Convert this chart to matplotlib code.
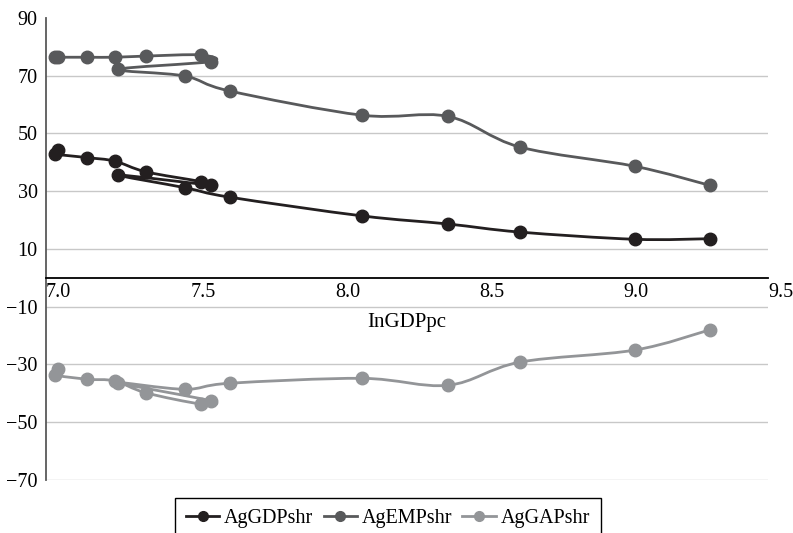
import matplotlib
matplotlib.use('Agg')
import matplotlib.pyplot as plt
from matplotlib.path import Path
from matplotlib.patches import PathPatch
from matplotlib.lines import Line2D

# values, in the order the lines connect them
lnGDPpc = [7.043, 7.031, 7.143, 7.238, 7.345, 7.536, 7.571, 7.250, 7.480, 7.636, 8.095, 8.392, 8.640, 9.039, 9.298]
AgGDPshr = [44.2, 42.9, 41.6, 40.4, 36.7, 33.3, 32.1, 35.6, 31.2, 27.9, 21.4, 18.6, 15.8, 13.3, 13.5]
AgEMPshr = [76.4, 76.4, 76.4, 76.4, 76.8, 77.2, 74.9, 72.2, 69.9, 64.7, 56.3, 55.9, 45.3, 38.6, 32.0]
AgGAPshr = [-31.8, -33.7, -35.2, -35.8, -39.9, -43.8, -42.7, -36.4, -38.7, -36.6, -34.9, -37.3, -29.3, -25.1, -18.1]

series_names = ['AgGDPshr', 'AgEMPshr', 'AgGAPshr']
series_colors = ['#231f20', '#58595b', '#939598']

x_ticks = [7.0, 7.5, 8.0, 8.5, 9.0, 9.5]
y_ticks = [-70, -50, -30, -10, 10, 30, 50, 70, 90]


def smooth_path(xs, ys):
    # excel style smoothed line: cubic bezier through every point
    pts = list(zip(xs, ys))
    n = len(pts)
    verts = [pts[0]]
    codes = [Path.MOVETO]
    for i in range(n - 1):
        p0 = pts[max(i - 1, 0)]
        p1 = pts[i]
        p2 = pts[i + 1]
        p3 = pts[min(i + 2, n - 1)]
        c1 = (p1[0] + (p2[0] - p0[0]) / 6.0, p1[1] + (p2[1] - p0[1]) / 6.0)
        c2 = (p2[0] - (p3[0] - p1[0]) / 6.0, p2[1] - (p3[1] - p1[1]) / 6.0)
        verts += [c1, c2, p2]
        codes += [Path.CURVE4] * 3
    return Path(verts, codes)


def main():
    plt.rcParams['font.family'] = ['Liberation Serif', 'DejaVu Serif']
    plt.rcParams['font.size'] = 14.5

    fig = plt.figure(figsize=(7.93, 5.33), dpi=100, facecolor='white')
    ax = fig.add_axes([46 / 793, 1 - 479.6 / 533, (768 - 46) / 793, (479.6 - 18) / 533])

    # spine position first, it resets the ticks
    ax.spines['top'].set_visible(False)
    ax.spines['right'].set_visible(False)
    ax.spines['left'].set_color('#595959')
    ax.spines['left'].set_linewidth(1.3)
    ax.spines['bottom'].set_position(('data', 0))
    ax.spines['bottom'].set_color('black')
    ax.spines['bottom'].set_linewidth(1.3)

    all_ys = [AgGDPshr, AgEMPshr, AgGAPshr]
    for ys, color in zip(all_ys, series_colors):
        patch = PathPatch(smooth_path(lnGDPpc, ys), fill=False, edgecolor=color,
                          lw=2.0, capstyle='round', joinstyle='round', zorder=3)
        ax.add_patch(patch)
        ax.plot(lnGDPpc, ys, 'o', color=color, ms=9, linestyle='none', zorder=4, clip_on=False)

    ax.set_xlim(7.0, 9.5)
    ax.set_ylim(-70, 90)
    ax.set_xticks(x_ticks)
    ax.set_xticklabels(['%.1f' % t for t in x_ticks])
    ax.set_yticks(y_ticks)
    ax.set_yticklabels(['%d' % t if t >= 0 else '\u2212%d' % -t for t in y_ticks])
    ax.tick_params(axis='both', length=0)
    ax.tick_params(axis='x', pad=4)
    ax.tick_params(axis='y', pad=6)
    for lbl in ax.get_xticklabels():
        lbl.set_horizontalalignment('left')

    ax.yaxis.grid(True, color='#c8c8c8', lw=1.0)
    ax.get_ygridlines()[-1].set_visible(False)
    ax.set_axisbelow(True)

    ax.text(8.25, -15.7, 'InGDPpc', ha='center', va='center', fontsize=15)

    handles = [Line2D([], [], color=c, lw=2.0, marker='o', ms=7) for c in series_colors]
    leg = fig.legend(handles, series_names, loc='upper center',
                     bbox_to_anchor=(388 / 793, 1 - 498 / 533), ncol=3,
                     frameon=True, fancybox=False, edgecolor='black', framealpha=1,
                     handlelength=1.65, handletextpad=0.25, columnspacing=0.5,
                     borderpad=0.55, borderaxespad=0, fontsize=14.5)
    leg.get_frame().set_linewidth(1.0)

    fig.savefig('out.png', dpi=100, facecolor='white')


if __name__ == "__main__":
    main()
